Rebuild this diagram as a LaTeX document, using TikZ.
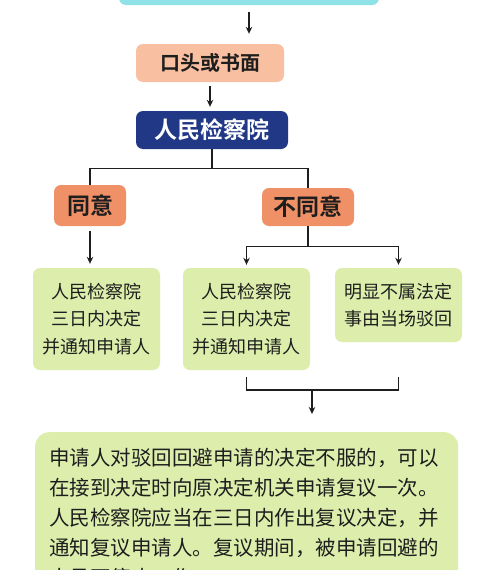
\documentclass[tikz,border=0pt]{standalone}
\usepackage{fontspec}
\setmainfont{Noto Sans CJK SC}[BoldFont={Noto Sans CJK SC Bold}]
\usetikzlibrary{arrows.meta}
\definecolor{skybox}{RGB}{143,226,232}
\definecolor{peach}{RGB}{248,192,160}
\definecolor{coral}{RGB}{240,144,102}
\definecolor{navy}{RGB}{33,56,135}
\definecolor{leaf}{RGB}{221,238,172}
\definecolor{ink}{RGB}{30,30,30}

\begin{document}
\begin{tikzpicture}[x=1pt, y=-1pt, >={Stealth[length=7pt, width=6.5pt]},
  box/.style={rounded corners=7pt, inner sep=0pt, align=center, text=ink},
  head/.style={box, font=\fontsize{20}{24}\selectfont\bfseries},
  leafbox/.style={box, fill=leaf, minimum width=127pt, font=\fontsize{18}{27.5}\selectfont},
  link/.style={line width=1.1pt, draw=ink},
  arr/.style={link, ->}]
\clip (0,0) rectangle (499,570);
\fill[white] (0,0) rectangle (499,570);
% top of the chart (cut off)
\node[box, fill=skybox, minimum width=260pt, minimum height=40pt] (top) at (249,-15) {};
\node[head, fill=peach, minimum width=148pt, minimum height=38pt] (oral) at (210,63) {口头或书面};
\node[head, fill=navy, text=white, minimum width=152pt, minimum height=38pt,
  font=\fontsize{23}{26}\selectfont\bfseries] (procur) at (212,130) {人民检察院};
\node[head, fill=coral, minimum width=72pt, minimum height=41pt,
  font=\fontsize{23}{26}\selectfont\bfseries] (agree) at (90,205.5) {同意};
\node[head, fill=coral, minimum width=92pt, minimum height=38pt,
  font=\fontsize{23}{26}\selectfont\bfseries] (refuse) at (308,207) {不同意};
% outcomes
\node[leafbox, minimum height=102pt] (notify) at (96.5,319) {人民检察院\\三日内决定\\并通知申请人};
\node[leafbox, minimum height=102pt] (decide) at (246.5,319) {人民检察院\\三日内决定\\并通知申请人};
\node[leafbox, minimum height=74pt] (reject) at (398.5,305) {明显不属法定\\事由当场驳回};
\node[box, fill=leaf, rounded corners=14pt, anchor=north west, text width=395pt,
  inner xsep=14pt, inner ysep=16pt, align=left,
  font=\fontsize{20.5}{30}\selectfont] (review) at (35,432)
  {申请人对驳回回避申请的决定不服的，可以\\
   在接到决定时向原决定机关申请复议一次。\\
   人民检察院应当在三日内作出复议决定，并\\
   通知复议申请人。复议期间，被申请回避的\\
   人员不停止工作。};
% connectors
\draw[arr, shorten <=7pt, shorten >=10pt] (top.south) -- (top.south |- oral.north);
\draw[arr, shorten <=4pt, shorten >=4pt] (oral.south) -- (oral.south |- procur.north);
\draw[link] (procur.south) -- ++(0,19) coordinate (fork) -| (agree.north);
\draw[link] (fork) -| (refuse.north);
\draw[arr, shorten <=5pt, shorten >=4pt] (agree.south) -- (agree.south |- notify.north);
\draw[link] (refuse.south) -- ++(0,20) coordinate (split);
\draw[arr, shorten >=3pt] (split) -| (decide.north);
\draw[arr, shorten >=3pt] (split) -| (reject.north);
\coordinate (join) at (312,390);
\draw[link] (decide.south) ++(0,7) |- (join);
\draw[link] (reject.south |- decide.south) ++(0,7) |- (join);
\draw[arr, shorten >=18pt] (join) -- (join |- review.north);
\end{tikzpicture}
\end{document}
